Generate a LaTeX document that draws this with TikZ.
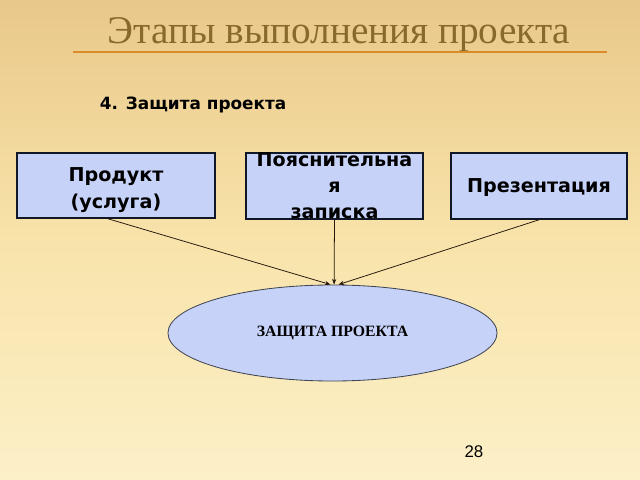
\documentclass[tikz,border=0pt]{standalone}
\usepackage{fontspec}
\setmainfont{Liberation Serif}
\newfontfamily\boxfont{DejaVu Sans}
\newfontfamily\numfont{Liberation Sans}
\usetikzlibrary{arrows.meta,shapes.geometric}
\definecolor{bgtop}{HTML}{E9C88A}
\definecolor{bgmid}{HTML}{F8E3AA}
\definecolor{bgbot}{HTML}{FCF0C8}
\definecolor{titlebrown}{HTML}{8A6A2C}
\definecolor{ruleorange}{HTML}{DC8A2A}
\definecolor{boxblue}{HTML}{C7D2F8}
\definecolor{boxedge}{HTML}{101828}
\begin{document}
\begin{tikzpicture}[x=0.025cm,y=-0.025cm,
    stagebox/.style={draw=boxedge,line width=1.1pt,fill=boxblue,
        font=\boxfont\bfseries\fontsize{13.6}{18.5}\selectfont,inner sep=0pt},
    defence/.style={ellipse,draw=boxedge!80,line width=0.6pt,fill=boxblue,inner sep=0pt,
        font=\bfseries\fontsize{11.2}{13}\selectfont},
    link/.style={draw=black!80!brown,line width=0.55pt,-{Stealth[length=4pt,width=3pt]}}]
    % background
    \useasboundingbox (0,0) rectangle (640,480);
    \shade[top color=bgtop,bottom color=bgbot,middle color=bgmid] (0,0) rectangle (640,480);
    % heading
    \node[anchor=base,text=titlebrown,font=\fontsize{27.9}{32}\selectfont] (title) at (339,43) {Этапы выполнения проекта};
    \draw[ruleorange,line width=1.4pt] (73,52) -- (607,52);
    \node[anchor=base west,font=\boxfont\bfseries\fontsize{12}{14}\selectfont] (step) at (95,109) {4. Защита проекта};
    % boxes
    \node[stagebox,minimum width=4.95cm,minimum height=1.625cm] (prod) at (116,185.5)
        {\raisebox{-16.7pt}[0pt][0pt]{\begin{tabular}[b]{@{}c@{}}Продукт\\[1.4pt](услуга)\end{tabular}}};
    \node[stagebox,align=center,minimum width=4.425cm,minimum height=1.65cm,text depth=0pt] (note) at (334.5,186) {Пояснительна\\я\\записка};
    \node[stagebox,minimum width=4.4cm,minimum height=1.65cm] (pres) at (539,186) {\raisebox{-4.3pt}[0pt][0pt]{Презентация}};
    \node[defence,minimum width=8.225cm,minimum height=2.4cm] (def) at (332.5,333) {ЗАЩИТА ПРОЕКТА};
    % arrows
    \draw[link] ([xshift=-0.2cm]prod.south) -- ([xshift=-0.05cm]def.north);
    \draw[link] (note.south) -- ([xshift=0.04cm]def.north);
    \draw[link] (pres.south) -- ([xshift=0.15cm]def.north);
    \node[font=\numfont\fontsize{12}{14}\selectfont] (page) at (474,452) {28};
\end{tikzpicture}
\end{document}
